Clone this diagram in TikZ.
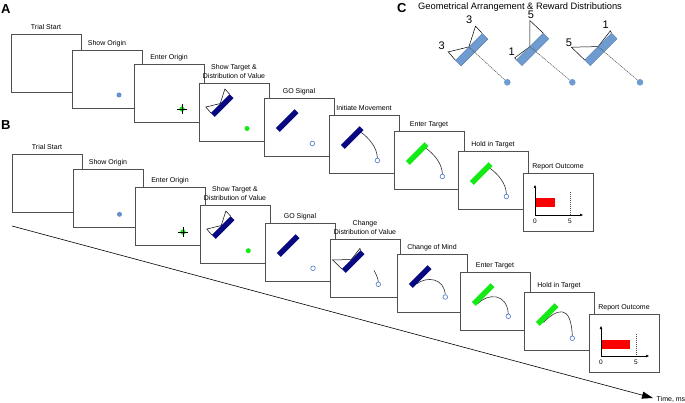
\documentclass[tikz,border=0pt]{standalone}
\usepackage{fontspec}
\setmainfont{Liberation Sans}
\usetikzlibrary{arrows.meta,calc}
\definecolor{navybar}{RGB}{8,8,128}
\definecolor{limebar}{RGB}{20,235,20}
\definecolor{steel}{RGB}{110,155,208}
\definecolor{dotblue}{RGB}{100,145,205}
\definecolor{ringblue}{RGB}{75,120,200}
\definecolor{framegray}{RGB}{80,80,80}
\definecolor{rewardred}{RGB}{250,0,0}
\tikzset{
  frm/.style={draw=framegray, line width=0.95pt, fill=white, minimum width=70pt, minimum height=58pt, inner sep=0pt, outer sep=0pt, anchor=north west},
  lbl/.style={font=\fontsize{7}{8.6}\selectfont, inner sep=0pt, align=center},
  wedge/.style={draw=black, line width=0.5pt, line join=miter},
  trace/.style={draw=black!80, line width=0.6pt},
  ring/.style={draw=ringblue, line width=0.6pt, fill=white},
  rawaxis/.style={draw=black, line width=0.5pt, -{Triangle[length=3pt,width=2.4pt]}},
  guide/.style={draw=black!70, line width=0.5pt, dash pattern=on 1pt off 1pt},
  ticklbl/.style={font=\fontsize{6.5}{7}\selectfont, inner sep=0pt},
  letter/.style={font=\fontsize{13}{14}\selectfont\bfseries, inner sep=0pt},
  digit/.style={font=\fontsize{11}{12}\selectfont, inner sep=0pt},
  pointer/.style={draw=black!65, line width=0.6pt, dash pattern=on 1.2pt off 0.8pt},
  timeax/.style={draw=black, line width=0.6pt, -{Triangle[length=11pt,width=7pt]}},
  bigdot/.style={circle, fill=steel, minimum size=6.6pt, inner sep=0pt, outer sep=0pt},
}
% frame with one-line label
\newcommand\frameat[4]{%
  \node[frm] (#1) at (#2,#3) {};
  \node[lbl, anchor=base] (#1l) at ($(#1.north)+(0,-4.8)$) {#4};}
% frame with two-line label
\newcommand\frameatt[4]{%
  \node[frm] (#1) at (#2,#3) {};
  \node[lbl, anchor=south] (#1l) at ($(#1.north)+(0,-4.6)$) {#4};}
\newcommand\inframe[2]{\begin{scope}[shift={(#1.north west)}]#2\end{scope}}
\newcommand\barshape[1]{\path[#1] (10.6,-16.2) -- (16.2,-10.6) -- (-10.6,16.2) -- (-16.2,10.6) -- cycle;}
\newcommand\wedges[4]{\draw[wedge] (10.6,-16.2) -- (#1,#2) -- (-2.8,-2.8) -- (#3,#4) -- (-16.2,10.6);}
\newcommand\tbar[1]{\begin{scope}[shift={(23.2,22.5)},scale=0.7]#1\end{scope}}
\newcommand\crosshair{\fill[limebar] (48,45) circle (2.7pt);
  \draw[black, line width=0.5pt] (43,45) -- (53,45) (48,40.3) -- (48,49.7);}
\newcommand\report[2]{%
  \fill[rewardred] (12,25.5) rectangle (#1,34.5);
  \draw[guide] (47,19.5) -- (47,42);
  \draw[rawaxis] (12,42) -- (12,12);
  \draw[rawaxis] (12,42) -- (60,42);
  \node[ticklbl, anchor=base] (#2z) at (12,50.5) {0};
  \node[ticklbl, anchor=base] (#2f) at (47,50.5) {5};}
\begin{document}
\begin{tikzpicture}[x=1pt,y=-1pt]
\useasboundingbox (0,0) rectangle (685,403);

% panel letters
\node[letter, anchor=base west] (lA) at (1,13.3) {A};
\node[letter, anchor=base west] (lB) at (1,130) {B};
\node[letter, anchor=base west] (lC) at (397,13) {C};

% ---------------- Panel A ----------------
\frameat{A1}{11}{34}{Trial Start}
\frameat{A2}{72}{50}{Show Origin}
\inframe{A2}{\fill[dotblue] (47,45) circle (2.5pt);}
\frameat{A3}{134}{64}{Enter Origin}
\inframe{A3}{\crosshair}
\frameatt{A4}{199}{83}{Show Target \&\\Distribution of Value}
\inframe{A4}{\tbar{\wedges{3.8}{-23.5}{-23.5}{2.2}\barshape{fill=navybar}}
  \fill[limebar] (48,45.5) circle (2.5pt);}
\frameat{A5}{264}{98}{GO Signal}
\inframe{A5}{\tbar{\barshape{fill=navybar}}\draw[ring] (48.4,45.5) circle (2.3pt);}
\frameat{A6}{329}{115}{Initiate Movement}
\inframe{A6}{\draw[trace] (31,16.5) .. controls (40,23) and (48,32) .. (48.4,43.2);
  \tbar{\barshape{fill=navybar}}\draw[ring] (48.4,45.5) circle (2.3pt);}
\frameat{A7}{394}{131}{Enter Target}
\inframe{A7}{\draw[trace] (31,16.5) .. controls (40,23) and (48,32) .. (48.4,43.2);
  \tbar{\barshape{fill=limebar}}\draw[ring] (48.4,45.5) circle (2.3pt);}
\frameat{A8}{458}{151}{Hold in Target}
\inframe{A8}{\draw[trace] (31,16.5) .. controls (40,23) and (48,32) .. (48.4,43.2);
  \tbar{\barshape{fill=limebar}}\draw[ring] (48.4,45.5) circle (2.3pt);}
\frameat{A9}{523}{173}{Report Outcome}
\inframe{A9}{\report{32}{A9}}

% ---------------- Panel B ----------------
\coordinate (t0) at (12,226);
\coordinate (t1) at (653,398);
\draw[timeax] (t0) -- (t1);
\node[lbl, anchor=base west] (tlab) at (656.5,401) {Time, ms};

\frameat{B1}{12}{154}{Trial Start}
\frameat{B2}{73}{169}{Show Origin}
\inframe{B2}{\fill[dotblue] (46.5,45.3) circle (2.5pt);}
\frameat{B3}{135}{187}{Enter Origin}
\inframe{B3}{\crosshair}
\frameatt{B4}{200}{205}{Show Target \&\\Distribution of Value}
\inframe{B4}{\tbar{\wedges{3.8}{-23.5}{-23.5}{2.2}\barshape{fill=navybar}}
  \fill[limebar] (48.3,45.7) circle (2.5pt);}
\frameat{B5}{265}{223}{GO Signal}
\inframe{B5}{\tbar{\barshape{fill=navybar}}\draw[ring] (48,45.3) circle (2.3pt);}
\frameatt{B6}{330}{239}{Change\\Distribution of Value}
\inframe{B6}{\tbar{\wedges{9.5}{-18.6}{-29.5}{-2.2}\barshape{fill=navybar}}
  \draw[trace] (44,31.3) .. controls (46,35) and (48,39) .. (48.3,43);
  \draw[ring] (48.3,45.3) circle (2.3pt);}
\frameat{B7}{397}{254}{Change of Mind}
\inframe{B7}{\draw[trace] (19.7,29.9) .. controls (30,22) and (47,24) .. (48.3,40.7);
  \tbar{\barshape{fill=navybar}}\draw[ring] (48.3,43) circle (2.3pt);}
\frameat{B8}{460}{272}{Enter Target}
\inframe{B8}{\draw[trace] (17.5,31.8) .. controls (28,21) and (47,21) .. (48.3,42);
  \tbar{\barshape{fill=limebar}}\draw[ring] (48.3,44.3) circle (2.3pt);}
\frameat{B9}{524}{292}{Hold in Target}
\inframe{B9}{\draw[trace] (19.3,30.5) .. controls (32,18) and (47,10) .. (48.3,44);
  \tbar{\barshape{fill=limebar}}\draw[ring] (48.3,46.3) circle (2.3pt);}
\frameat{B10}{589}{314}{Report Outcome}
\inframe{B10}{\report{40.5}{B10}}

% ---------------- Panel C ----------------
\node[anchor=base west, font=\fontsize{9.3}{10}\selectfont, inner sep=0pt] (Ct) at (418,9.5) {Geometrical Arrangement \& Reward Distributions};
% arrangement 1: 3 / 3
\begin{scope}[shift={(471.7,49.7)}]
  \wedges{3.8}{-23.5}{-23.5}{2.2}
  \barshape{fill=steel, draw=steel!80!black, line width=0.4pt}
  \node[digit] (c1t) at (-2.4,-29.7) {3};
  \node[digit] (c1l) at (-30,-4) {3};
  \coordinate (p1) at (-2.8,-2.8);
\end{scope}
\node[bigdot] (d1) at (507.3,82.3) {};
\draw[pointer] (p1) -- (d1);
% arrangement 2: 5 / 1
\begin{scope}[shift={(532.7,49.4)}]
  \wedges{-2.8}{-28.8}{-18}{8.5}
  \barshape{fill=steel, draw=steel!80!black, line width=0.4pt}
  \node[digit] (c2t) at (-1.7,-34.2) {5};
  \node[digit] (c2l) at (-21,2.5) {1};
  \coordinate (p2) at (-2.8,-2.8);
\end{scope}
\node[bigdot] (d2) at (572.3,82.3) {};
\draw[pointer] (p2) -- (d2);
% arrangement 3: 1 / 5
\begin{scope}[shift={(600.9,49.4)}]
  \wedges{9.5}{-18.6}{-29.5}{-2.2}
  \barshape{fill=steel, draw=steel!80!black, line width=0.4pt}
  \node[digit] (c3t) at (4.8,-24.2) {1};
  \node[digit] (c3l) at (-31.9,-6.5) {5};
  \coordinate (p3) at (-2.8,-2.8);
\end{scope}
\node[bigdot] (d3) at (640,82.3) {};
\draw[pointer] (p3) -- (d3);
\end{tikzpicture}
\end{document}
